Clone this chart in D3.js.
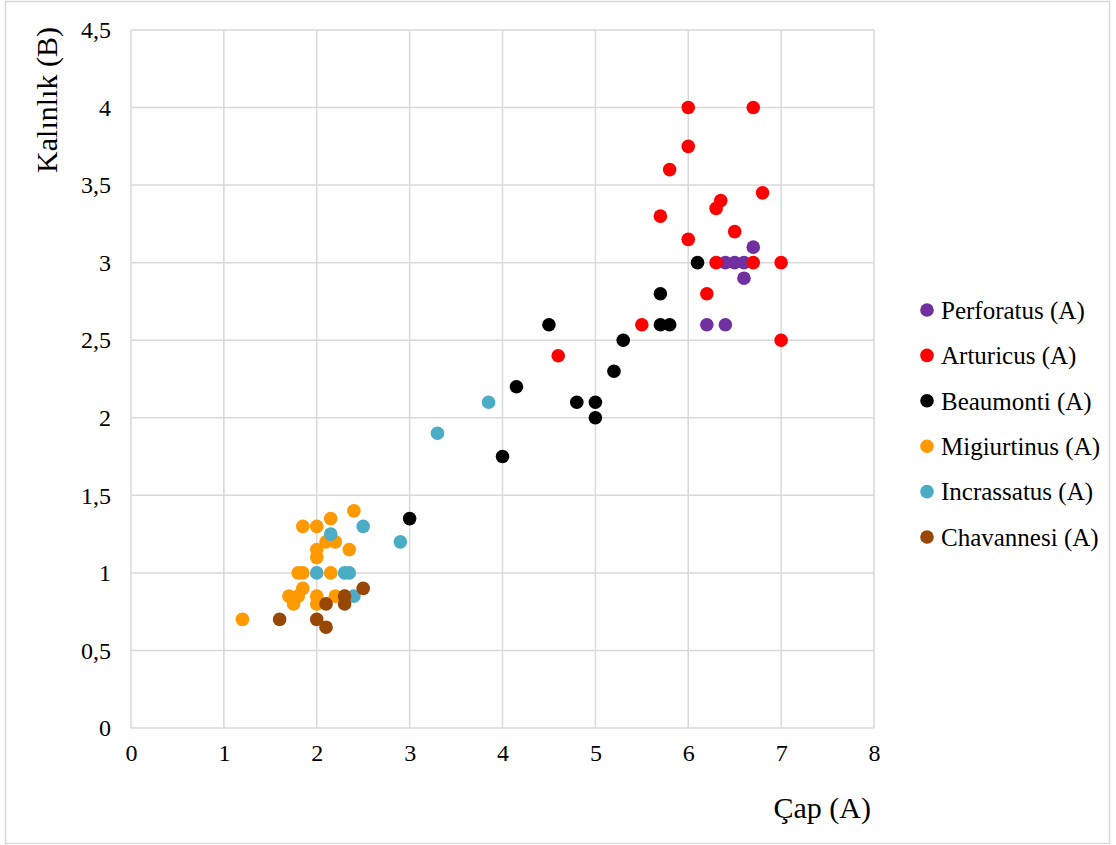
<!DOCTYPE html>
<html>
<head>
<meta charset="utf-8">
<script src="https://cdn.jsdelivr.net/npm/d3@7"></script>
<style>
  body { margin: 0; background: #fff; }
  text { font-family: "Liberation Serif", "Times New Roman", serif; fill: #000; }
</style>
</head>
<body>
<div id="chart"></div>
<script>
// data
const seriesNames = ["Perforatus (A)", "Arturicus (A)", "Beaumonti (A)", "Migiurtinus (A)", "Incrassatus (A)", "Chavannesi (A)"];
const seriesColors = ["#7030a0", "#ff0000", "#000000", "#ff9900", "#4bacc6", "#974706"];

const perforatusX = [6.7, 6.4, 6.5, 6.6, 6.6, 6.2, 6.4];
const perforatusY = [3.1, 3.0, 3.0, 3.0, 2.9, 2.6, 2.6];

const arturicusX = [6.0, 6.7, 6.0, 5.8, 6.8, 6.35, 6.3, 5.7, 6.5, 6.0, 6.3, 6.7, 7.0, 6.2, 5.5, 7.0, 4.6];
const arturicusY = [4.0, 4.0, 3.75, 3.6, 3.45, 3.4, 3.35, 3.3, 3.2, 3.15, 3.0, 3.0, 3.0, 2.8, 2.6, 2.5, 2.4];

const beaumontiX = [6.1, 5.7, 5.7, 5.8, 5.3, 4.5, 5.2, 4.15, 4.8, 5.0, 5.0, 4.0, 3.0];
const beaumontiY = [3.0, 2.8, 2.6, 2.6, 2.5, 2.6, 2.3, 2.2, 2.1, 2.1, 2.0, 1.75, 1.35];

const migiurtinusX = [2.4, 2.15, 1.85, 2.0, 2.1, 2.2, 2.35, 2.0, 2.0, 1.8, 1.85, 2.15, 1.85, 1.7, 1.8, 1.75, 2.0, 2.0, 2.2, 2.3, 1.2];
const migiurtinusY = [1.4, 1.35, 1.3, 1.3, 1.2, 1.2, 1.15, 1.15, 1.1, 1.0, 1.0, 1.0, 0.9, 0.85, 0.85, 0.8, 0.85, 0.8, 0.85, 0.85, 0.7];

const incrassatusX = [3.85, 3.3, 2.5, 2.15, 2.9, 2.0, 2.3, 2.35, 2.4];
const incrassatusY = [2.1, 1.9, 1.3, 1.25, 1.2, 1.0, 1.0, 1.0, 0.85];

const chavannesiX = [2.5, 2.3, 2.3, 2.1, 1.6, 2.0, 2.1];
const chavannesiY = [0.9, 0.85, 0.8, 0.8, 0.7, 0.7, 0.65];

const xTicks = [0, 1, 2, 3, 4, 5, 6, 7, 8];
const yTicks = [0, 0.5, 1, 1.5, 2, 2.5, 3, 3.5, 4, 4.5];

const allX = [perforatusX, arturicusX, beaumontiX, migiurtinusX, incrassatusX, chavannesiX];
const allY = [perforatusY, arturicusY, beaumontiY, migiurtinusY, incrassatusY, chavannesiY];

const series = seriesNames.map((name, i) => ({
  name: name,
  color: seriesColors[i],
  points: allX[i].map((x, j) => ({x: x, y: allY[i][j]}))
}));

// dimensions
const W = 1116, H = 845;
const margin = {top: 30, right: 242, bottom: 117, left: 131},
    width = W - margin.left - margin.right,
    height = H - margin.top - margin.bottom;

const svg = d3.select("#chart")
  .append("svg")
    .attr("width", W)
    .attr("height", H);

// outer chart border
svg.append("rect")
    .attr("x", 5.5).attr("y", 1.5)
    .attr("width", 1104).attr("height", 842)
    .attr("fill", "none")
    .attr("stroke", "#d9d9d9")
    .attr("stroke-width", 1.5);

const g = svg.append("g")
    .attr("transform", `translate(${margin.left}, ${margin.top})`);

const x = d3.scaleLinear().domain([0, 8]).range([0, width]);
const y = d3.scaleLinear().domain([0, 4.5]).range([height, 0]);

const fmt = d => d3.format("")(d).replace(".", ",");

// grid lines
g.append("g")
  .selectAll("line")
  .data(xTicks)
  .join("line")
    .attr("x1", d => x(d)).attr("x2", d => x(d))
    .attr("y1", 0).attr("y2", height)
    .attr("stroke", "#d9d9d9")
    .attr("stroke-width", 1.5);

g.append("g")
  .selectAll("line")
  .data(yTicks)
  .join("line")
    .attr("x1", 0).attr("x2", width)
    .attr("y1", d => y(d)).attr("y2", d => y(d))
    .attr("stroke", "#d9d9d9")
    .attr("stroke-width", 1.5);

// X axis labels
const xAxis = g.append("g")
    .attr("transform", `translate(0, ${height})`)
    .call(d3.axisBottom(x).tickValues(xTicks).tickFormat(fmt).tickSize(0).tickPadding(16));
xAxis.select(".domain").remove();
xAxis.selectAll("text")
    .style("font-family", "Liberation Serif")
    .style("font-size", "24px")
    .attr("fill", "#000");

// Y axis labels
const yAxis = g.append("g")
    .call(d3.axisLeft(y).tickValues(yTicks).tickFormat(fmt).tickSize(0).tickPadding(20));
yAxis.select(".domain").remove();
yAxis.selectAll("text")
    .style("font-family", "Liberation Serif")
    .style("font-size", "24px")
    .attr("fill", "#000");

// axis titles
svg.append("text")
    .attr("text-anchor", "end")
    .attr("x", 871)
    .attr("y", 818)
    .style("font-size", "30px")
    .text("Çap (A)");

svg.append("text")
    .attr("text-anchor", "middle")
    .attr("transform", "translate(57, 100) rotate(-90)")
    .style("font-size", "30px")
    .text("Kalınlık (B)");

// points
series.forEach(s => {
  g.append("g")
    .selectAll("circle")
    .data(s.points)
    .join("circle")
      .attr("cx", d => x(d.x))
      .attr("cy", d => y(d.y))
      .attr("r", 6.8)
      .attr("fill", s.color);
});

// legend
const legend = svg.append("g")
    .attr("transform", "translate(927, 310)");

legend.selectAll("circle")
  .data(series)
  .join("circle")
    .attr("cx", 0)
    .attr("cy", (d, i) => i * 45.4)
    .attr("r", 6.8)
    .attr("fill", d => d.color);

legend.selectAll("text")
  .data(series)
  .join("text")
    .attr("x", 14)
    .attr("y", (d, i) => i * 45.4)
    .attr("dy", "0.35em")
    .style("font-size", "25px")
    .text(d => d.name);
</script>
</body>
</html>
